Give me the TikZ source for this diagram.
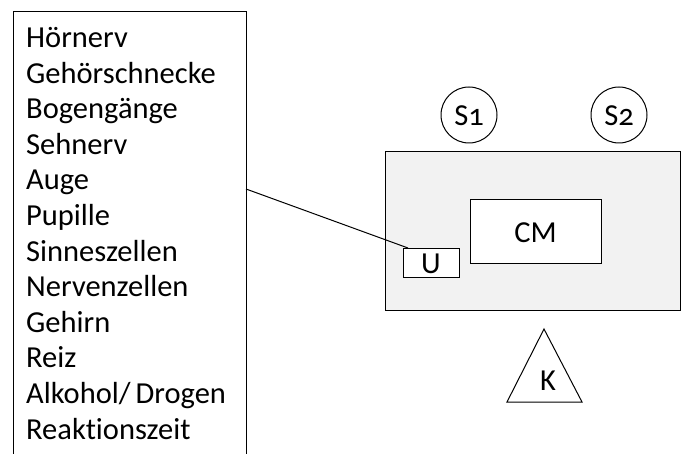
\documentclass[tikz,border=0pt]{standalone}
\usepackage{fontspec}
\setmainfont[Numbers=OldStyle,Ligatures=NoCommon]{Carlito}
\definecolor{boxgray}{RGB}{242,242,242}
\tikzset{
  px/.style={x=1pt,y=-1pt},
  lbl/.style={font=\fontsize{30.5}{34}\selectfont, inner sep=0pt},
  frame/.style={draw=black, line width=1pt},
}
\begin{document}
\begin{tikzpicture}[px]
\useasboundingbox (0,0) rectangle (683,454);
% left list box (open at the bottom)
\draw[frame] (13,454) -- (13,12) -- (246,12) -- (246,454);
\foreach \t [count=\i] in {Hörnerv,Gehörschnecke,Bogengänge,Sehnerv,Auge,Pupille,Sinneszellen,Nervenzellen,Gehirn,Reiz,Alkohol/\,Drogen,Reaktionszeit}
  \node[lbl, anchor=base west] (l\i) at (26,{47.5+35.6*(\i-1)}) {\t};
% gray area
\node[frame, fill=boxgray, minimum width=295pt, minimum height=159pt, anchor=north west, inner sep=0pt] (area) at (385,151) {};
% CM box
\node[frame, fill=white, minimum width=131pt, minimum height=64pt, anchor=north west, inner sep=0pt] (cm) at (470,199) {};
\node[lbl] (cmt) at (535.5,233) {CM};
% U box
\node[frame, fill=white, minimum width=56pt, minimum height=29pt, anchor=north west, inner sep=0pt] (u) at (403,248) {};
\node[lbl] (ut) at (431,264) {U};
% circles
\node[frame, circle, minimum size=56pt, inner sep=0pt] (s1) at (469,115) {};
\node[lbl] (s1t) at (469,116) {S1};
\node[frame, circle, minimum size=56pt, inner sep=0pt] (s2) at (619,115) {};
\node[lbl] (s2t) at (619,116) {S2};
% triangle
\coordinate (ta) at (544,329);
\coordinate (tl) at (507,402);
\coordinate (tr) at (582,402);
\draw[frame, line join=miter] (ta) -- (tl) -- (tr) -- cycle;
\node[lbl] (k) at (548,381) {K};
% connector
\coordinate (start) at (246,189);
\draw[line width=1pt] (start) -- ([xshift=5pt]u.north west);
\end{tikzpicture}
\end{document}
